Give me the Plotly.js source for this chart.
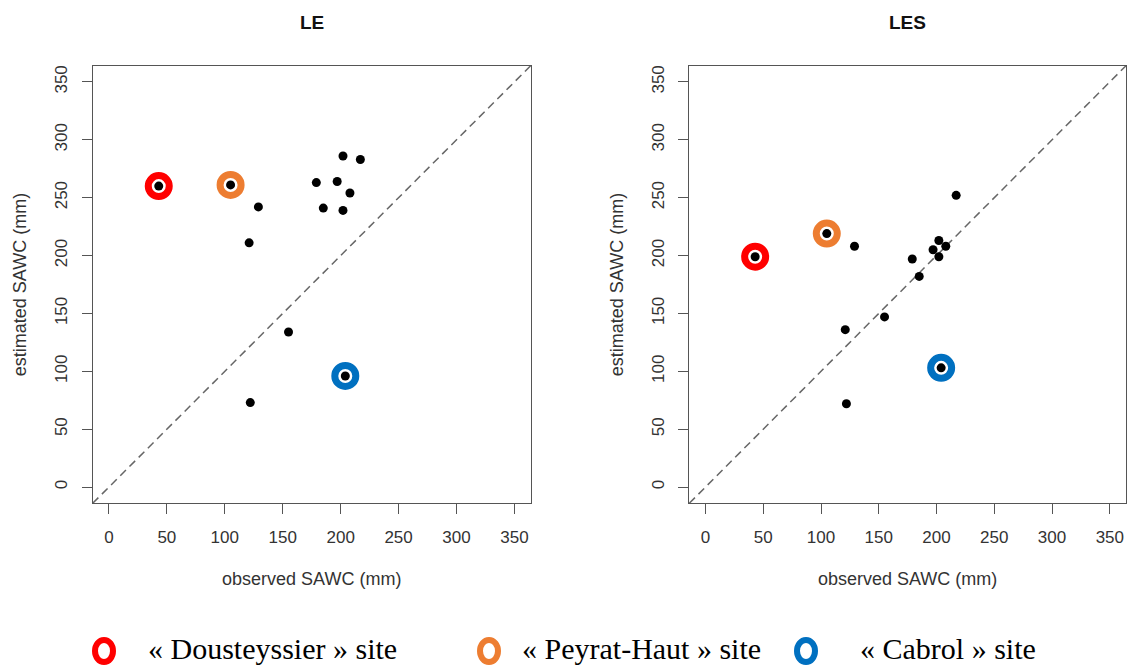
<!DOCTYPE html>
<html>
<head>
<meta charset="utf-8">
<script src="https://cdn.plot.ly/plotly-3.0.1.min.js"></script>
<style>html,body{margin:0;padding:0;background:#fff;}#chart{width:1128px;height:666px;}</style>
</head>
<body>
<div id="chart"></div>
<script>
// ---- data ----
const panelTitles = ["LE", "LES"];
const observed = [43, 105, 204, 202, 217, 179, 197, 208, 185, 202, 129, 121, 155, 122];
const estimatedLE = [260, 261, 96, 286, 283, 263, 264, 254, 241, 239, 242, 211, 134, 73];
const estimatedLES = [199, 219, 103, 213, 252, 197, 205, 208, 182, 199, 208, 136, 147, 72];
const siteIndex = [0, 1, 2];
const siteNames = ["« Dousteyssier » site", "« Peyrat-Haut » site", "« Cabrol » site"];
const siteColors = ["#FF0000", "#ED7D31", "#0070C0"];
const tickValues = [0, 50, 100, 150, 200, 250, 300, 350];
const axisRange = [-14, 364];
const xTitle = "observed SAWC (mm)";
const yTitle = "estimated SAWC (mm)";

const W = 1128, H = 666;
const px = v => v / W, py = v => (H - v) / H;

const estimates = [estimatedLE, estimatedLES];
const axisIds = [["x", "y"], ["x2", "y2"]];
const traces = [];
estimates.forEach((est, p) => {
  siteIndex.forEach((i, k) => {
    traces.push({
      type: "scatter", mode: "markers", xaxis: axisIds[p][0], yaxis: axisIds[p][1],
      x: [observed[i]], y: [est[i]], showlegend: false, hoverinfo: "skip",
      marker: {symbol: "circle", size: 21, color: "#ffffff", line: {color: siteColors[k], width: 7}}
    });
  });
  traces.push({
    type: "scatter", mode: "markers", xaxis: axisIds[p][0], yaxis: axisIds[p][1],
    x: observed, y: est, showlegend: false,
    marker: {symbol: "circle", size: 9, color: "#000000"}
  });
});

const tickFont = {family: "Liberation Sans, Arial, sans-serif", size: 17, color: "#333"};
const titleFont = {family: "Liberation Sans, Arial, sans-serif", size: 18, color: "#333"};
function xa(domain, anchor) {
  return {domain: domain, anchor: anchor, range: axisRange, tickmode: "array", tickvals: tickValues,
    ticks: "outside", ticklen: 10, tickwidth: 1, tickcolor: "#555", ticklabelstandoff: 8,
    showline: true, mirror: true, linecolor: "#555", linewidth: 1, showgrid: false, zeroline: false,
    tickfont: tickFont, automargin: false,
    title: {text: xTitle, font: titleFont, standoff: 26}};
}
function ya(domain, anchor) {
  return {domain: domain, anchor: anchor, range: axisRange, tickmode: "array", tickvals: tickValues,
    ticks: "outside", ticklen: 10, tickwidth: 1, tickcolor: "#555", ticklabelstandoff: 8, tickangle: -90,
    showline: true, mirror: true, linecolor: "#555", linewidth: 1, showgrid: false, zeroline: false,
    tickfont: tickFont, automargin: false,
    title: {text: yTitle, font: titleFont, standoff: 20}};
}
const yDom = [py(503.3), py(65.7)];

const shapes = [];
const annotations = [];
[["x", "y"], ["x2", "y2"]].forEach((ax, p) => {
  shapes.push({type: "line", xref: ax[0] + " domain", yref: ax[1] + " domain", x0: 0, y0: 0, x1: 1, y1: 1,
    line: {color: "#666", width: 1.5, dash: "8px,5px"}, layer: "below"});
  annotations.push({text: "<b>" + panelTitles[p] + "</b>", xref: ax[0] + " domain", yref: "paper",
    x: 0.5, y: py(22), xanchor: "center", yanchor: "middle", showarrow: false,
    font: {family: "Liberation Sans, Arial, sans-serif", size: 19, color: "#111"}});
});

// legend drawn at the bottom
const legIcon = [104, 489, 806];
const legText = [146, 520, 858];
siteIndex.forEach((i, k) => {
  shapes.push({type: "circle", xref: "paper", yref: "paper",
    x0: px(legIcon[k] - 9), x1: px(legIcon[k] + 9), y0: py(662), y1: py(640),
    line: {color: siteColors[k], width: 6}, fillcolor: "#fff"});
  annotations.push({text: siteNames[k], xref: "paper", yref: "paper", x: px(legText[k]), y: py(648),
    xanchor: "left", yanchor: "middle", showarrow: false,
    font: {family: "Liberation Serif, Times New Roman, serif", size: 30, color: "#000"}});
});

const layout = {
  width: W, height: H, margin: {l: 0, r: 0, t: 0, b: 0},
  paper_bgcolor: "#fff", plot_bgcolor: "#fff", showlegend: false,
  xaxis: xa([px(92.7), px(530.7)], "y"),
  yaxis: ya(yDom, "x"),
  xaxis2: xa([px(689.3), px(1126)], "y2"),
  yaxis2: ya(yDom, "x2"),
  shapes: shapes, annotations: annotations
};
Plotly.newPlot("chart", traces, layout, {displayModeBar: false, staticPlot: true});
</script>
</body>
</html>
